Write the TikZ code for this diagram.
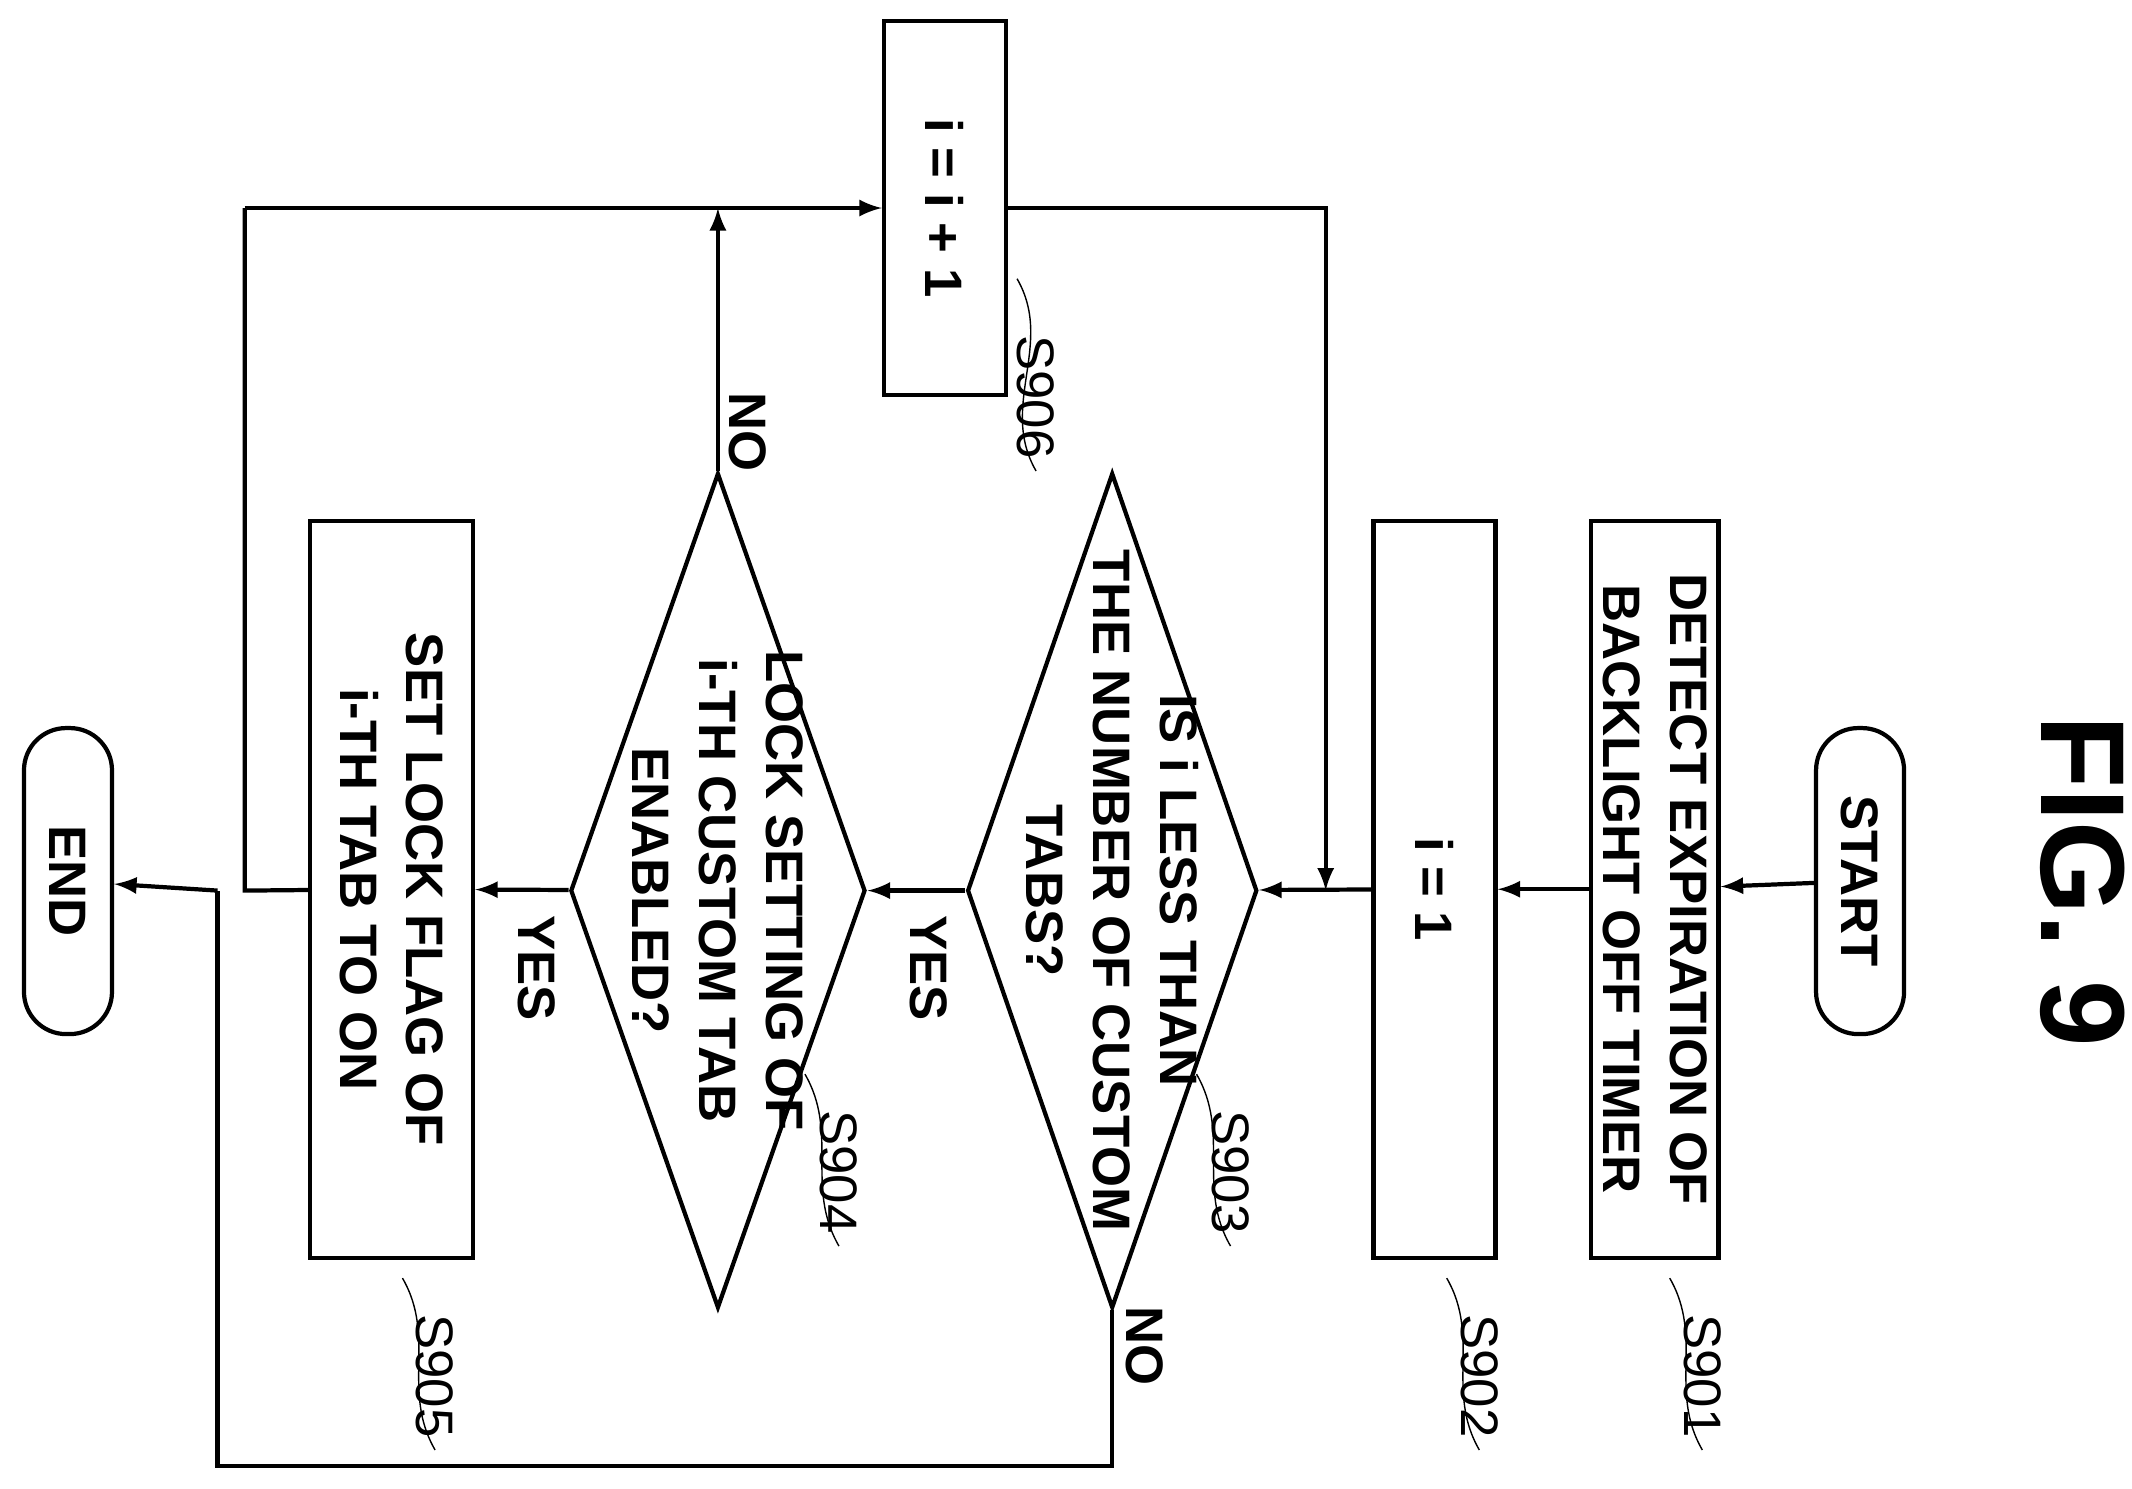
\documentclass[tikz,border=0pt]{standalone}
\usepackage{fontspec}
\setmainfont{Liberation Sans}
\usetikzlibrary{shapes.geometric,positioning}
\tikzset{
  txt/.style={rotate=-90, align=center, font=\bfseries\fontsize{15}{19}\selectfont},
  box/.style={rectangle, draw, line width=1.2pt, txt},
  term/.style={box, rounded corners=12pt},
  deci/.style={diamond, draw, line width=1.2pt, inner sep=0pt},
  lbl/.style={rotate=-90, font=\fontsize{15}{17}\selectfont},
  flow/.style={->, >=latex, line width=1.2pt},
}
\begin{document}
\begin{tikzpicture}[x=0.0136cm, y=-0.0136cm]
        \useasboundingbox (0,0) rectangle (1568,1095);
        % Nodes
        \node (fig) [rotate=-90, font=\bfseries\fontsize{34}{40}\selectfont] at (1532, 648) {FIG. 9};
        \node (start) [term, minimum width=3.06cm, minimum height=0.88cm] at (1368, 648) {START};
        \node (s901) [box, minimum width=7.37cm, minimum height=1.22cm] at (1217, 654) {DETECT EXPIRATION OF\\BACKLIGHT OFF TIMER};
        \node (s902) [box, minimum width=7.37cm, minimum height=1.22cm] at (1055, 654) {i = 1};
        \node (s903) [deci, minimum width=2.9cm, minimum height=8.35cm] at (818, 655) {};
        \node (t903) [txt] at (s903) {IS i LESS THAN\\THE NUMBER OF CUSTOM\\TABS?};
        \node (s904) [deci, minimum width=2.95cm, minimum height=8.35cm] at (528, 655) {};
        \node (t904) [txt] at (s904) {LOCK SETTING OF\\i-TH CUSTOM TAB\\ENABLED?};
        \node (s905) [box, minimum width=7.37cm, minimum height=1.63cm] at (288, 654) {SET LOCK FLAG OF\\i-TH TAB TO ON};
        \node (end) [term, minimum width=3.06cm, minimum height=0.88cm] at (50, 648) {END};
        \node (s906) [box, minimum width=3.74cm, minimum height=1.22cm] at (695, 153) {i = i + 1};
        % Labels
        \node (l901) [lbl] at (1252, 1012) {S901};
        \node (l902) [lbl] at (1088, 1012) {S902};
        \node (l903) [lbl] at (905, 862) {S903};
        \node (l904) [lbl] at (617, 862) {S904};
        \node (l905) [lbl] at (320, 1012) {S905};
        \node (l906) [lbl] at (762, 292) {S906};
        \draw (l901.east) to[out=120, in=-60] (1228, 940);
        \draw (l902.east) to[out=120, in=-60] (1064, 940);
        \draw (l903.east) to[out=120, in=-60] (880, 790);
        \draw (l904.east) to[out=120, in=-60] (592, 790);
        \draw (l905.east) to[out=120, in=-60] (296, 940);
        \draw (l906.east) to[out=120, in=-60] (748, 205);
        \node (yes1) [txt] at (683, 712) {YES};
        \node (yes2) [txt] at (395, 712) {YES};
        \node (no1l) [txt] at (550, 318) {NO};
        \node (no2l) [txt] at (842, 990) {NO};
        % Coordinates
        \coordinate (join) at (975, 655);
        \coordinate (back) at (180, 655);
        \coordinate (backtop) at (180, 153);
        \coordinate (notop) at (528, 153);
        \coordinate (no1) at (818, 1078);
        \coordinate (no2) at (160, 1078);
        \coordinate (no3) at (160, 655);
        % Arrows
        \draw[flow] (start) -- (s901);
        \draw[flow] (s901) -- (s902);
        \draw[flow] (s902) -- (s903);
        \draw[flow] (s903) -- (s904);
        \draw[flow] (s904) -- (s905);
        \draw[flow] (s904.north) -- (notop);
        \draw[line width=1.2pt] (s905) -- (back) -- (backtop);
        \draw[flow] (backtop) -- (s906);
        \draw[flow] (s906) -| (join);
        \draw[line width=1.2pt] (s903.south) -- (no1) -- (no2) -- (no3);
        \draw[flow] (no3) -- (end);
      \end{tikzpicture}
\end{document}
